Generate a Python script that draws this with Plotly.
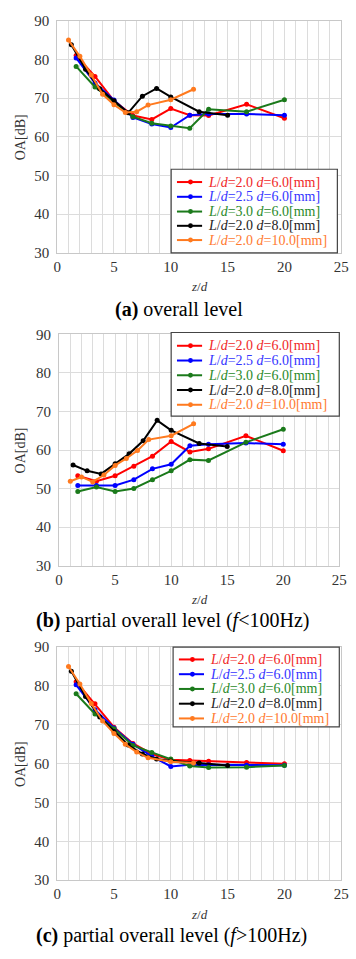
import plotly.graph_objects as go

W, H = 356, 959

# z/d positions for each configuration
x_d6 = [1.67, 3.33, 5.0, 6.67, 8.33, 10.0, 11.67, 13.33, 16.67, 20.0]
x_d8 = [1.25, 2.5, 3.75, 5.0, 6.25, 7.5, 8.75, 10.0, 12.5, 15.0]
x_d10 = [1, 2, 3, 4, 5, 6, 7, 8, 10, 12]

# (a) overall level
red_a = [81.0, 75.6, 69.3, 65.5, 64.5, 67.3, 65.6, 65.5, 68.4, 64.8]
blue_a = [80.4, 73.9, 69.5, 65.0, 63.3, 62.4, 65.6, 65.9, 65.9, 65.6]
green_a = [78.2, 72.9, 69.0, 65.2, 63.5, 62.8, 62.2, 67.1, 66.5, 69.6]
black_a = [83.8, 77.5, 72.4, 69.3, 66.2, 70.5, 72.5, 70.3, 66.5, 65.6]
orange_a = [85.0, 80.8, 76.0, 71.0, 68.3, 66.3, 66.5, 68.2, 69.6, 72.3]

# (b) partial overall level f<100Hz
red_b = [53.3, 51.9, 53.3, 55.8, 58.4, 62.2, 59.5, 60.3, 63.7, 59.8]
blue_b = [50.8, 50.8, 50.8, 52.3, 55.1, 56.3, 61.1, 61.5, 61.8, 61.5]
green_b = [49.2, 50.4, 49.2, 50.0, 52.3, 54.6, 57.5, 57.3, 62.0, 65.4]
black_b = [56.1, 54.6, 53.8, 56.4, 59.0, 62.4, 67.7, 65.1, 61.7, 60.9]
orange_b = [51.9, 53.0, 51.7, 53.5, 56.0, 57.8, 59.9, 62.7, 63.7, 66.8]

# (c) partial overall level f>100Hz
red_c = [81.1, 75.4, 69.4, 65.2, 62.5, 61.0, 60.8, 60.6, 60.3, 60.0]
blue_c = [80.3, 73.9, 69.2, 65.0, 61.9, 59.3, 59.7, 59.7, 59.6, 59.6]
green_c = [78.0, 72.8, 69.0, 64.7, 62.9, 61.2, 59.4, 59.0, 59.1, 59.5]
black_c = [83.8, 77.3, 72.0, 68.3, 64.8, 62.5, 61.2, 60.7, 60.2, 59.5]
orange_c = [85.0, 80.5, 75.5, 71.0, 67.8, 65.0, 63.0, 61.5, 60.5, 60.2]

series_labels = [
    "<i>L</i>/<i>d</i>=2.0 <i>d</i>=6.0[mm]",
    "<i>L</i>/<i>d</i>=2.5 <i>d</i>=6.0[mm]",
    "<i>L</i>/<i>d</i>=3.0 <i>d</i>=6.0[mm]",
    "<i>L</i>/<i>d</i>=2.0 <i>d</i>=8.0[mm]",
    "<i>L</i>/<i>d</i>=2.0 <i>d</i>=10.0[mm]",
]
line_colors = ["#ff0000", "#0000ff", "#1b7a1b", "#000000", "#ff7a1f"]
text_colors = ["#f02828", "#3535ff", "#2a8a2a", "#222222", "#ff7a30"]
xs = [x_d6, x_d6, x_d6, x_d8, x_d10]
panels = [
    [red_a, blue_a, green_a, black_a, orange_a],
    [red_b, blue_b, green_b, black_b, orange_b],
    [red_c, blue_c, green_c, black_c, orange_c],
]

# pixel layout (top, bottom, left, right) per panel
pix = [(13, 249, 55, 349), (332, 567, 57, 347), (650, 887, 55, 349)]
# legend boxes (left, top, right, bottom) and row centres
leg_box = [(173, 164, 345, 249), (173, 330, 347, 415), (175, 650, 347, 731)]
leg_rows = [
    [177, 192, 207, 221.5, 236],
    [343.5, 358.5, 373.5, 388.5, 403.5],
    [662.5, 677.5, 692.5, 707.5, 722.5],
]

SERIF = "Liberation Serif"
fig = go.Figure()

for p, vals in enumerate(panels):
    sfx = "" if p == 0 else str(p + 1)
    for lab, col, xv, yv in zip(series_labels, line_colors, xs, vals):
        fig.add_trace(go.Scatter(
            x=xv, y=yv, mode="lines+markers", name=lab,
            line=dict(color=col, width=2),
            marker=dict(color=col, size=5),
            xaxis="x" + sfx, yaxis="y" + sfx, showlegend=False,
        ))

layout = dict(
    width=W, height=H, margin=dict(l=0, r=0, t=0, b=0),
    paper_bgcolor="white", plot_bgcolor="white",
    font=dict(family=SERIF, color="#333333"),
)

for p, (top, bot, left, right) in enumerate(pix):
    sfx = "" if p == 0 else str(p + 1)
    layout["xaxis" + sfx] = dict(
        domain=[left / W, right / W], range=[0, 25], dtick=5,
        anchor="y" + sfx, showgrid=True, gridcolor="#dcdcdc", gridwidth=1,
        minor=dict(dtick=1, showgrid=True, gridcolor="#dcdcdc", gridwidth=1),
        showline=True, linecolor="#c8c8c8", mirror=True, zeroline=False,
        tickfont=dict(size=15, family=SERIF, color="#333333"), fixedrange=True,
    )
    layout["yaxis" + sfx] = dict(
        domain=[1 - bot / H, 1 - top / H], range=[30, 90], dtick=10,
        anchor="x" + sfx, showgrid=True, gridcolor="#dcdcdc", gridwidth=1,
        showline=True, linecolor="#c8c8c8", mirror=True, zeroline=False,
        tickfont=dict(size=15, family=SERIF, color="#333333"), fixedrange=True,
        ticklabelstandoff=4,
    )

shapes = []
annotations = []

def px_x(v):
    return v / W

def px_y(v):
    return 1 - v / H

# manual legends
for p in range(3):
    l, t, r, b = leg_box[p]
    shapes.append(dict(type="rect", xref="paper", yref="paper",
                       x0=px_x(l), x1=px_x(r), y0=px_y(b), y1=px_y(t),
                       fillcolor="white", line=dict(color="#444444", width=1.2), layer="above"))
    for k in range(5):
        cy = leg_rows[p][k]
        x0 = l + 6
        x1 = l + 32
        shapes.append(dict(type="line", xref="paper", yref="paper",
                           x0=px_x(x0), x1=px_x(x1), y0=px_y(cy), y1=px_y(cy),
                           line=dict(color=line_colors[k], width=2), layer="above"))
        mx = (x0 + x1) / 2 + 1
        shapes.append(dict(type="circle", xref="paper", yref="paper",
                           x0=px_x(mx - 2.5), x1=px_x(mx + 2.5), y0=px_y(cy + 2.5), y1=px_y(cy - 2.5),
                           fillcolor=line_colors[k], line=dict(color=line_colors[k], width=0), layer="above"))
        annotations.append(dict(
            text=series_labels[k], x=px_x(l + 36), y=px_y(cy), xref="paper", yref="paper",
            xanchor="left", yanchor="middle", showarrow=False,
            font=dict(size=14, family=SERIF, color=text_colors[k]),
        ))

xtitle_y = [283, 602, 922]
caps = [
    ("<b>(a)</b> overall level", 307),
    ("<b>(b)</b> partial overall level (<i>f</i>&lt;100Hz)", 623),
    ("<b>(c)</b> partial overall level (<i>f</i>&gt;100Hz)", 943),
]
for p, (top, bot, left, right) in enumerate(pix):
    annotations.append(dict(
        text="OA[dB]", x=px_x(17), y=px_y((top + bot) / 2), xref="paper", yref="paper",
        xanchor="center", yanchor="middle",
        textangle=-90, showarrow=False, font=dict(size=14, family=SERIF, color="#333333"),
    ))
    annotations.append(dict(
        text="<i>z</i>/<i>d</i>", x=px_x((left + right) / 2), y=px_y(xtitle_y[p]),
        xref="paper", yref="paper", xanchor="center", yanchor="middle", showarrow=False,
        font=dict(size=13, family=SERIF, color="#333333"),
    ))
    txt, cy = caps[p]
    if p == 0:
        annotations.append(dict(text=txt, x=px_x(181), y=px_y(cy), xref="paper", yref="paper",
                                showarrow=False, xanchor="center", yanchor="middle",
                                font=dict(size=20, family=SERIF, color="#000000")))
    else:
        annotations.append(dict(text=txt, x=px_x(31), y=px_y(cy), xref="paper", yref="paper",
                                showarrow=False, xanchor="left", yanchor="middle",
                                font=dict(size=20, family=SERIF, color="#000000")))

layout["shapes"] = shapes
layout["annotations"] = annotations
layout["showlegend"] = False

fig.update_layout(**layout)
fig.write_html(
    "out.html",
    config={"displayModeBar": False, "staticPlot": True},
    post_script="document.body.style.margin='0px';document.body.style.overflow='hidden';",
)
